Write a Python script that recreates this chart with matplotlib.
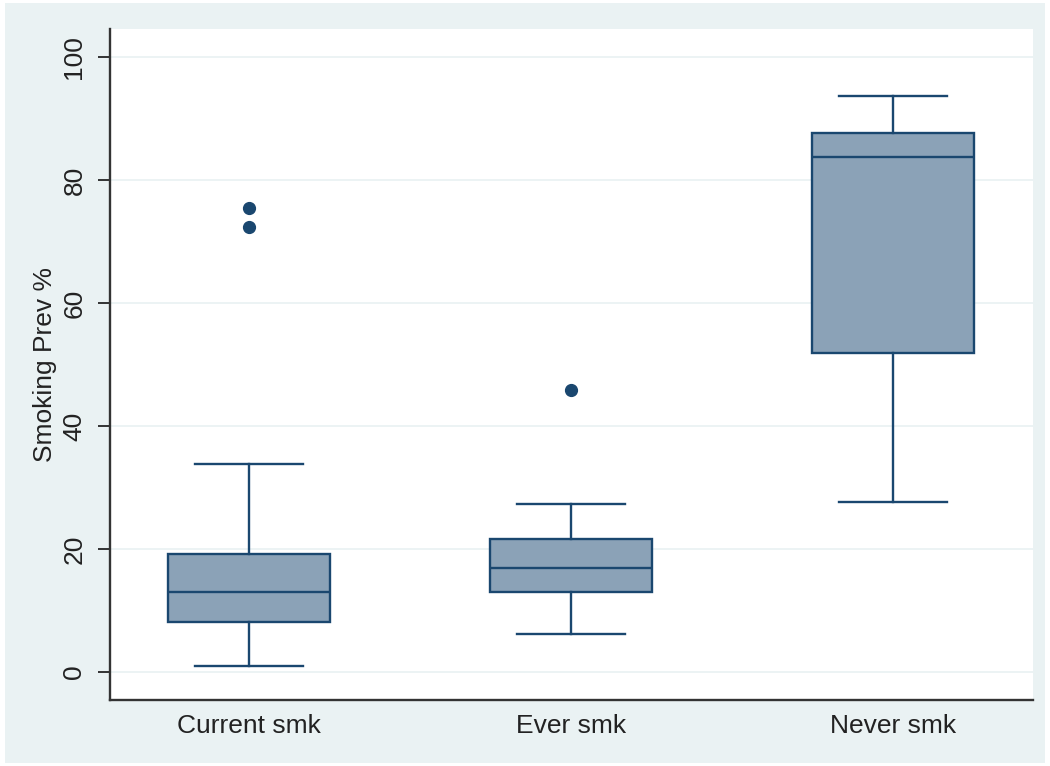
import matplotlib
matplotlib.use("Agg")
import matplotlib.pyplot as plt
from matplotlib.patches import Rectangle

categories = ["Current smk", "Ever smk", "Never smk"]
whislo = [1.0, 6.2, 27.6]
q1 = [8.1, 13.0, 51.9]
med = [13.0, 16.9, 83.7]
q3 = [19.2, 21.6, 87.6]
whishi = [33.8, 27.3, 93.7]
fliers = [[75.4, 72.4], [45.9], []]
yticks = [0, 20, 40, 60, 80, 100]

plt.rcParams['font.family'] = ['Liberation Sans', 'DejaVu Sans']

fig = plt.figure(figsize=(10.5, 7.66), dpi=100)
fig.patch.set_facecolor('white')
bg = Rectangle((5/1050, 3/766), 1040/1050, 760/766, transform=fig.transFigure,
               facecolor='#eaf2f3', edgecolor='none', zorder=-10)
fig.add_artist(bg)

ax = fig.add_axes([110/1050, 1 - 700/766, 923/1050, 671/766])
ax.set_zorder(1)
ax.set_facecolor('white')

edge = '#1a476f'
stats = []
for i, c in enumerate(categories):
    stats.append(dict(label=c, whislo=whislo[i], q1=q1[i], med=med[i], q3=q3[i],
                      whishi=whishi[i], fliers=fliers[i]))

ax.bxp(stats, positions=[1, 2, 3], widths=0.503, patch_artist=True, showfliers=True,
       boxprops=dict(facecolor='#8ba2b7', edgecolor=edge, linewidth=1.7),
       medianprops=dict(color=edge, linewidth=1.7),
       whiskerprops=dict(color=edge, linewidth=1.7),
       capprops=dict(color=edge, linewidth=1.7),
       capwidths=0.335,
       flierprops=dict(marker='o', markerfacecolor=edge, markeredgecolor=edge, markersize=8.5))

ax.set_xlim(0.568, 3.435)
ax.set_ylim(-4.55, 104.55)
ax.set_yticks(yticks)
ax.set_yticklabels([str(t) for t in yticks], rotation=90, va='center', fontsize=19)
ax.tick_params(axis='y', length=9, width=1.4, color='#333333', pad=8)
ax.tick_params(axis='x', length=0, pad=10, labelsize=19)
for lab in ax.get_xticklabels():
    lab.set_color('#222222')
for lab in ax.get_yticklabels():
    lab.set_color('#222222')
ax.yaxis.grid(True, color='#eaf2f3', linewidth=1.3)
ax.set_axisbelow(True)
for s in ['top', 'right']:
    ax.spines[s].set_visible(False)
for s in ['left', 'bottom']:
    ax.spines[s].set_color('#333333')
    ax.spines[s].set_linewidth(1.7)
ax.set_ylabel('Smoking Prev %', fontsize=19, labelpad=4, color='#222222')

fig.savefig('out.png', dpi=100, facecolor=fig.get_facecolor())
